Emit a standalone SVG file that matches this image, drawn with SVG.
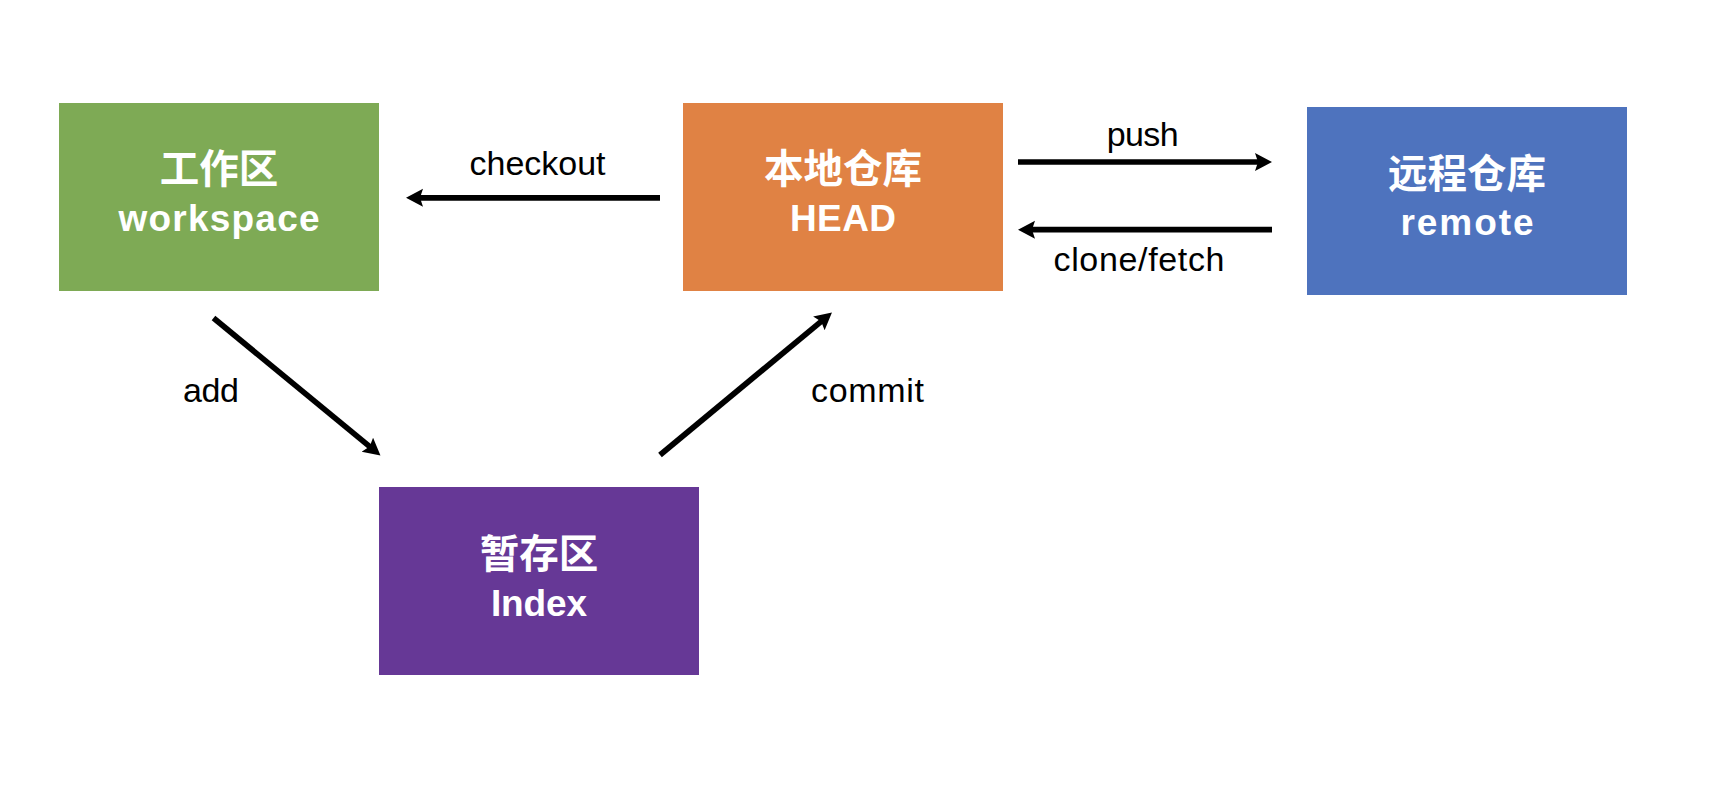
<svg xmlns="http://www.w3.org/2000/svg" width="1722" height="790" viewBox="0 0 1722 790">
  <style>
    .cn { font-family: "Noto Sans CJK SC", "Liberation Sans", sans-serif; font-size: 39.5px; font-weight: bold; fill: #ffffff; text-anchor: middle; }
    .en { font-family: "Liberation Sans", "Noto Sans", sans-serif; font-size: 37px; font-weight: bold; fill: #ffffff; text-anchor: middle; }
    .lbl { font-family: "Liberation Sans", "Noto Sans", sans-serif; font-size: 34px; fill: #000000; text-anchor: middle; }
    .conn { stroke: #000000; stroke-width: 5.7; fill: none; marker-end: url(#arrow); }
  </style>
  <defs>
    <marker id="arrow" markerUnits="userSpaceOnUse" markerWidth="18" markerHeight="19" refX="9" refY="9" orient="auto">
      <path d="M0,0 L17,9 L0,18 L3,9 z" fill="#000000"/>
    </marker>
  </defs>
  <rect width="1722" height="790" fill="#ffffff"/>

  <g id="workspace">
    <rect x="59" y="103" width="320" height="188" fill="#7EAA55"/>
    <text class="cn" x="219" y="183">工作区</text>
    <text class="en" x="219" y="231" textLength="201" lengthAdjust="spacing">workspace</text>
  </g>

  <g id="head">
    <rect x="683" y="103" width="320" height="188" fill="#E08244"/>
    <text class="cn" x="843" y="183">本地仓库</text>
    <text class="en" x="843" y="231" textLength="106" lengthAdjust="spacing">HEAD</text>
  </g>

  <g id="remote">
    <rect x="1307" y="107" width="320" height="188" fill="#4E73BE"/>
    <text class="cn" x="1467" y="188">远程仓库</text>
    <text class="en" x="1467" y="235" textLength="133" lengthAdjust="spacing">remote</text>
  </g>

  <g id="index">
    <rect x="379" y="487" width="320" height="188" fill="#663896"/>
    <text class="cn" x="539" y="568">暂存区</text>
    <text class="en" x="539" y="616" textLength="96" lengthAdjust="spacing">Index</text>
  </g>

  <g id="connectors">
    <line class="conn" x1="660" y1="197.8" x2="414" y2="197.8"/>
    <line class="conn" x1="1018" y1="162" x2="1264" y2="162"/>
    <line class="conn" x1="1272" y1="229.7" x2="1026" y2="229.7"/>
    <line class="conn" x1="213.5" y1="318" x2="374.3" y2="450.4"/>
    <line class="conn" x1="660" y1="455" x2="825.8" y2="317.6"/>
    <text class="lbl" x="537.5" y="175" textLength="136" lengthAdjust="spacing">checkout</text>
    <text class="lbl" x="1142.7" y="145.7" textLength="72" lengthAdjust="spacing">push</text>
    <text class="lbl" x="1139" y="270.7" textLength="171" lengthAdjust="spacing">clone/fetch</text>
    <text class="lbl" x="211" y="401.7" textLength="56" lengthAdjust="spacing">add</text>
    <text class="lbl" x="867.5" y="401.7" textLength="113" lengthAdjust="spacing">commit</text>
  </g>
</svg>
